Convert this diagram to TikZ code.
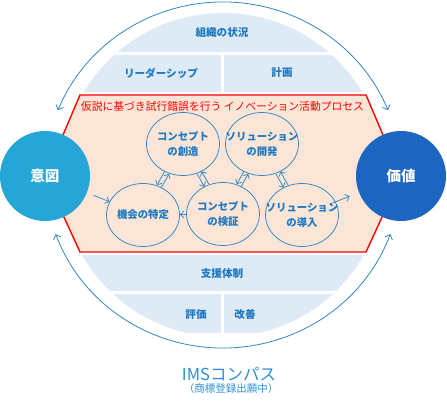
\documentclass[tikz,border=0pt]{standalone}
\usepackage{fontspec}
\setmainfont{Noto Sans CJK JP}
\usetikzlibrary{shapes.geometric,arrows.meta,calc}
\definecolor{bandfill}{HTML}{DEEAF6}
\definecolor{peach}{HTML}{FBE5D6}
\definecolor{redl}{HTML}{FF0000}
\definecolor{intentc}{HTML}{26A5D7}
\definecolor{valuec}{HTML}{1C66C2}
\definecolor{tblue}{HTML}{1F79C1}
\definecolor{lblue}{HTML}{2E87C6}
\definecolor{imsc}{HTML}{2E8FD6}
\begin{document}
\begin{tikzpicture}[x=1pt,y=-1pt,
  bigc/.style={circle, minimum size=90pt, inner sep=0pt, text=white, font=\bfseries\fontsize{14.5}{16}\selectfont},
  sm/.style={ellipse, draw=lblue, line width=0.75pt, minimum width=73pt, minimum height=63pt, inner sep=0pt},
  ct/.style={text=tblue, font=\bfseries\fontsize{10.4}{15}\selectfont, align=center, inner sep=0pt},
  bt/.style={text=tblue, font=\bfseries\fontsize{10.6}{12}\selectfont},
  pa/.style={draw=lblue, line width=0.75pt, -{Straight Barb[length=3.5pt,width=7pt]}},
  outarr/.style={draw=lblue, line width=0.8pt, {Straight Barb[length=4pt,width=8pt]}-{Straight Barb[length=4pt,width=8pt]}}
]
\useasboundingbox (0,0) rectangle (447,406);
\coordinate (ctr) at (223,175);
% bands
\begin{scope}
\clip (ctr) circle[radius=162pt];
\fill[bandfill] (0,0) rectangle (447,52.5);
\fill[bandfill] (0,55.5) rectangle (221,92);
\fill[bandfill] (224,55.5) rectangle (447,92);
\fill[bandfill] (0,255) rectangle (447,290.5);
\fill[bandfill] (0,294) rectangle (221,333);
\fill[bandfill] (224,294) rectangle (447,333);
\end{scope}
% process area
\draw[redl, line width=1.4pt, fill=peach] (80,95) -- (366,95) -- (383,135) -- (383,215) -- (366,252) -- (80,252) -- (63,215) -- (63,135) -- cycle;
% outer arcs
\draw[outarr] ($(ctr)+(-158:178 and 173)$) arc[start angle=-158, end angle=-22, x radius=178, y radius=173];
\draw[outarr] ($(ctr)+(160:178 and 173)$) arc[start angle=160, end angle=20, x radius=178, y radius=173];
% big circles
\node[bigc, fill=intentc] (intent) at (45,176) {意図};
\node[bigc, fill=valuec] (value) at (401,176) {価値};
% band texts
\node[bt] (t1) at (222,33) {組織の状況};
\node[bt] (t2) at (161,73) {リーダーシップ};
\node[bt] (t3) at (282,73) {計画};
\node[bt] (t4) at (222,273) {支援体制};
\node[bt] (t5) at (196,314) {評価};
\node[bt] (t6) at (245,314) {改善};
\node[text=redl, font=\fontsize{10.8}{12}\selectfont] (title) at (222.5,106) {仮説に基づき試行錯誤を行う イノベーション活動プロセス};
% small circles
\node[sm, label={[ct]center:コンセプト\\の創造}] (cre) at (183,144) {};
\node[sm, label={[ct]center:ソリューション\\の開発}] (dev) at (262,144) {};
\node[sm, label={[ct]center:機会の特定}] (opp) at (143,215) {};
\node[sm, label={[ct]center:コンセプト\\の検証}] (ver) at (223,214) {};
\node[sm, label={[ct]center:ソリューション\\の導入}] (intr) at (302,215) {};
% arrows
\draw[pa, transform canvas={shift={(-2.2,-1.2)}}] (cre) -- (opp);
\draw[pa, transform canvas={shift={(2.2,1.2)}}] (opp) -- (cre);
\draw[pa, transform canvas={shift={(-2.2,1.25)}}] (cre) -- (ver);
\draw[pa, transform canvas={shift={(2.2,-1.25)}}] (ver) -- (cre);
\draw[pa, transform canvas={shift={(-2.2,-1.2)}}] (dev) -- (ver);
\draw[pa, transform canvas={shift={(2.2,1.2)}}] (ver) -- (dev);
\draw[pa, transform canvas={shift={(-2.2,1.25)}}] (dev) -- (intr);
\draw[pa, transform canvas={shift={(2.2,-1.25)}}] (intr) -- (dev);
\draw[pa, shorten <=7pt] (intent) -- (opp);
\draw[pa] (ver) -- (opp);
\draw[pa, shorten >=10pt, shorten <=-6pt] (intr) -- (value);
% caption
\node[text=imsc, font=\fontsize{16.5}{18}\selectfont] (ims) at (229,374) {IMSコンパス};
\node[text=imsc, font=\fontsize{10.5}{12}\selectfont] (tm) at (231,389) {（商標登録出願中）};
\end{tikzpicture}
\end{document}
